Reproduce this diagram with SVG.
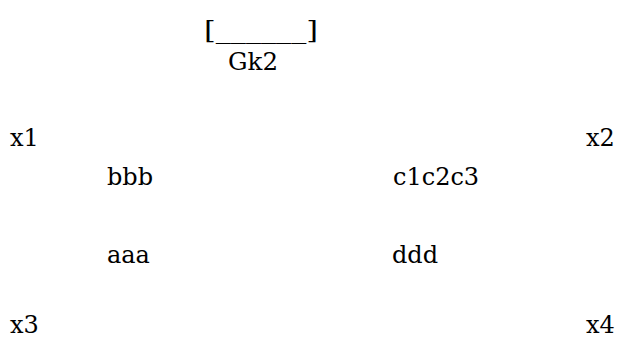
<svg xmlns="http://www.w3.org/2000/svg" width="620" height="339" viewBox="0 0 620 339">
  <style>
    .lbl { font-size: 24px; fill: #000; }
  </style>
  <rect width="620" height="339" fill="#fff"/>
  <g font-family="DejaVu Serif, serif">
    <g id="title">
      <text class="lbl" x="204" y="38" textLength="114" lengthAdjust="spacingAndGlyphs">[______]</text>
      <text class="lbl" x="228" y="70" textLength="50" lengthAdjust="spacingAndGlyphs">Gk2</text>
    </g>
    <g id="x1"><text class="lbl" x="10" y="146">x1</text></g>
    <g id="x2"><text class="lbl" x="586" y="146">x2</text></g>
    <g id="x3"><text class="lbl" x="10" y="333">x3</text></g>
    <g id="x4"><text class="lbl" x="586" y="333">x4</text></g>
    <g id="bbb"><text class="lbl" x="107" y="185">bbb</text></g>
    <g id="c1c2c3"><text class="lbl" x="393" y="185">c1c2c3</text></g>
    <g id="aaa"><text class="lbl" x="107" y="263">aaa</text></g>
    <g id="ddd"><text class="lbl" x="392" y="263">ddd</text></g>
  </g>
  <g id="connectors"></g>
</svg>
